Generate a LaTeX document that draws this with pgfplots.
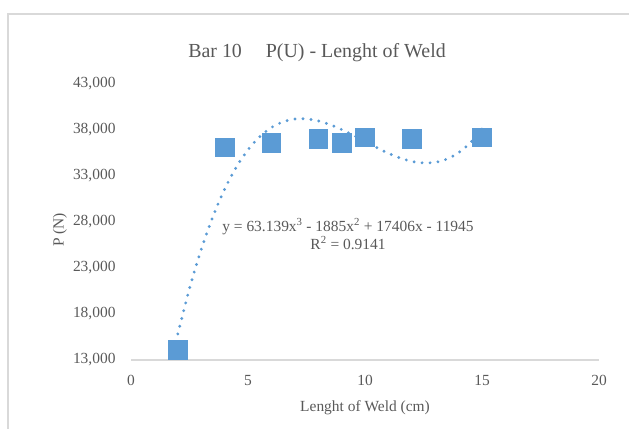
\documentclass[border=0pt]{standalone}
\usepackage{pgfplots}
\pgfplotsset{compat=1.18}
\usepackage{fontspec}
\setmainfont{Liberation Serif}
\definecolor{xlblue}{HTML}{5B9BD5}
\definecolor{txtgray}{HTML}{595959}
\definecolor{linegray}{HTML}{D9D9D9}
\begin{document}
\begin{tikzpicture}[x=1bp,y=1bp]
\useasboundingbox (0,0) rectangle (629,428);
\begin{scope}
\clip (0,0) rectangle (629,428);
\draw[linegray, line width=2.2bp] (8,414) rectangle (660,-20);
\end{scope}
\node[txtgray, font=\fontsize{20}{22}\selectfont] at (317,375) {Bar 10\hspace{1.2em}P(U) - Lenght of Weld};
\begin{axis}[
  at={(131bp,68bp)}, anchor=south west,
  scale only axis, width=468bp, height=276bp,
  xmin=0, xmax=20, ymin=13000, ymax=43000,
  xtick={0,5,10,15,20},
  ytick={13000,18000,23000,28000,33000,38000,43000},
  scaled y ticks=false,
  /pgf/number format/1000 sep={,},
  /pgf/number format/assume math mode=true,
  tick label style={txtgray, font=\fontsize{15.5}{17}\selectfont},
  major tick length=0pt,
  axis x line*=bottom, axis y line*=left,
  x axis line style={linegray, line width=1.3bp, -},
  y axis line style={draw=none},
  xticklabel style={yshift=-12bp},
  yticklabel style={xshift=-12bp},
  clip=false,
]
\addplot[xlblue, line width=3.2bp, line cap=round, dash pattern=on 0bp off 8bp, smooth] coordinates {
(2,15832) (2.5,20775) (3,25013) (3.5,28592) (4,31560) (4.5,33964) (5,35852) (5.5,37272)
(6,38269) (6.5,38892) (7,39189) (7.5,39206) (8,38990) (8.5,38590) (9,38052) (9.5,37425)
(10,36754) (10.5,36088) (11,35474) (11.5,34959) (12,34591) (12.5,34417) (13,34484)
(13.5,34843) (14,35532) (14.5,36608) (15,38114)};
\addplot[only marks, mark=square*, mark size=9.3bp, mark options={fill=xlblue, draw=xlblue, line width=0.6bp, rounded corners=1.5bp}] coordinates {
(2,14100) (4,36100) (6,36590) (8,37020) (9,36590) (10,37190) (12,37020) (15,37190)};
\end{axis}
\node[txtgray, font=\fontsize{15.5}{18}\selectfont, align=center] at (348,194) {y = 63.139x\textsuperscript{3} - 1885x\textsuperscript{2} + 17406x - 11945\\ R\textsuperscript{2} = 0.9141};
\node[txtgray, font=\fontsize{15.5}{17}\selectfont] at (365,20) {Lenght of Weld (cm)};
\node[txtgray, font=\fontsize{15.5}{17}\selectfont, rotate=90] at (60,198) {P (N)};
\end{tikzpicture}
\end{document}
